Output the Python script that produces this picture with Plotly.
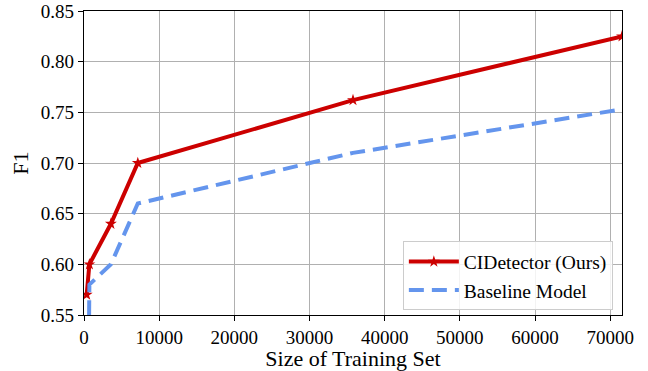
import plotly.graph_objects as go

train_sizes = [358, 716, 3579, 7157, 35787, 71575]
cidetector_f1 = [0.570, 0.600, 0.640, 0.700, 0.762, 0.825]
baseline_f1 = [0.300, 0.580, 0.600, 0.660, 0.710, 0.753]

x_ticks = [0, 10000, 20000, 30000, 40000, 50000, 60000, 70000]
y_ticks = [0.55, 0.60, 0.65, 0.70, 0.75, 0.80, 0.85]

FONT = "Liberation Serif"

fig = go.Figure()
fig.add_trace(go.Scatter(
    x=train_sizes, y=cidetector_f1, name="CIDetector (Ours)",
    mode="lines+markers",
    line=dict(color="#CC0000", width=4),
    marker=dict(symbol="star", size=9, color="#CC0000"),
))
fig.add_trace(go.Scatter(
    x=train_sizes, y=baseline_f1, name="Baseline Model",
    mode="lines",
    line=dict(color="#6495ED", width=4, dash="15px,8px"),
))

fig.update_layout(
    width=648, height=371,
    margin=dict(l=84, r=26, t=11, b=56),
    plot_bgcolor="white", paper_bgcolor="white",
    font=dict(family=FONT, size=19, color="black"),
    xaxis=dict(
        range=[0, 71575], tickmode="array", tickvals=x_ticks,
        ticktext=[str(v) for v in x_ticks],
        tickfont=dict(family=FONT, size=19, color="black"),
        title=dict(text="Size of Training Set", font=dict(family=FONT, size=22, color="black"), standoff=4),
        showline=True, linecolor="black", linewidth=1.3, mirror=True,
        ticks="outside", ticklen=5, tickcolor="black", tickwidth=1.2,
        showgrid=True, gridcolor="#b0b0b0", gridwidth=1,
        zeroline=False, automargin=False,
    ),
    yaxis=dict(
        range=[0.55, 0.85], tickmode="array", tickvals=y_ticks,
        ticktext=[f"{v:.2f}" for v in y_ticks],
        tickfont=dict(family=FONT, size=19, color="black"),
        title=dict(text="F1", font=dict(family=FONT, size=22, color="black"), standoff=6),
        showline=True, linecolor="black", linewidth=1.3, mirror=True,
        ticks="outside", ticklen=5, tickcolor="black", tickwidth=1.2,
        showgrid=True, gridcolor="#b0b0b0", gridwidth=1,
        zeroline=False, automargin=False,
    ),
    legend=dict(
        x=0.983, y=0.015, xanchor="right", yanchor="bottom",
        bgcolor="rgba(255,255,255,0.85)", bordercolor="#cccccc", borderwidth=1,
        font=dict(family=FONT, size=19.5, color="black"),
        tracegroupgap=0, itemwidth=50,
    ),
    showlegend=True,
)

fig.write_html("out.html")
